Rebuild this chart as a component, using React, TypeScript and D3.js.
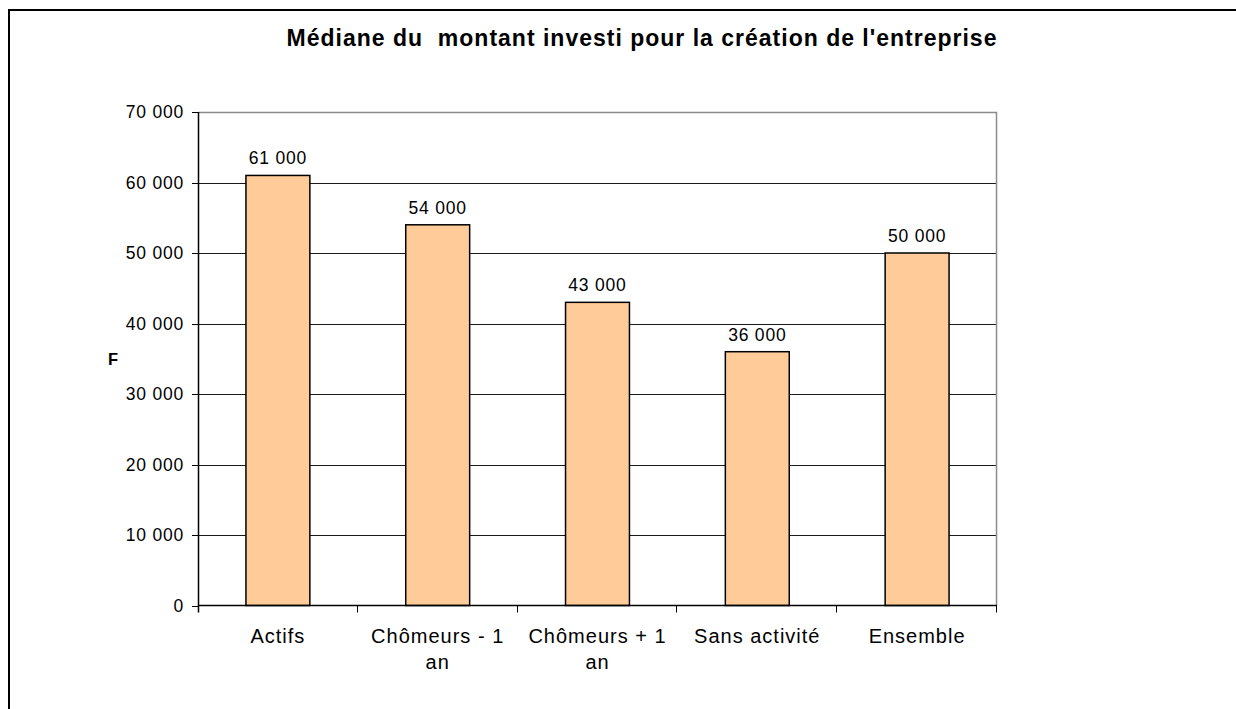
import React, { useEffect, useRef } from 'react';
import * as d3 from 'd3';

const categories = ['Actifs', 'Chômeurs - 1 an', 'Chômeurs + 1 an', 'Sans activité', 'Ensemble'];
const values = [61000, 54000, 43000, 36000, 50000];
const yTicks = [0, 10000, 20000, 30000, 40000, 50000, 60000, 70000];
const title = "Médiane du  montant investi pour la création de l'entreprise";
const yLabel = 'F';

const fmt = (v: number) => d3.format(',')(v).replace(/,/g, ' ');

const App = () => {
  const ref = useRef<SVGSVGElement | null>(null);

  useEffect(() => {
    const svg = d3.select(ref.current);
    svg.selectAll('*').remove();

    const width = 1236;
    const height = 709;
    const font = '"Liberation Sans", Arial, sans-serif';
    const plot = { left: 198, right: 997, top: 112, bottom: 605.5 };

    svg.append('rect').attr('width', width).attr('height', height).attr('fill', '#fff');

    // outer frame (cropped on right and bottom)
    svg
      .append('path')
      .attr('d', `M9,${height + 5}V10H${width + 5}`)
      .attr('fill', 'none')
      .attr('stroke', '#000')
      .attr('stroke-width', 2);

    svg
      .append('text')
      .attr('x', 642)
      .attr('y', 46)
      .attr('text-anchor', 'middle')
      .attr('font-family', font)
      .attr('font-weight', 'bold')
      .attr('font-size', 23)
      .attr('letter-spacing', 1)
      .style('white-space', 'pre')
      .text(title);

    const yScale = d3.scaleLinear().domain([0, 70000]).range([plot.bottom, plot.top]);
    const xOuter = d3.scaleBand().domain(categories).range([plot.left, plot.right]).padding(0);
    const xBar = d3
      .scaleBand()
      .domain(categories)
      .range([plot.left, plot.right])
      .paddingInner(0.6)
      .paddingOuter(0.3);

    // gridlines
    svg
      .append('g')
      .selectAll('line')
      .data(yTicks.filter((t) => t > 0 && t < 70000))
      .enter()
      .append('line')
      .attr('x1', plot.left)
      .attr('x2', plot.right)
      .attr('y1', (d) => Math.round(yScale(d)) + 0.5)
      .attr('y2', (d) => Math.round(yScale(d)) + 0.5)
      .attr('stroke', '#1a1a1a')
      .attr('stroke-width', 1);

    // plot border top / right (gray)
    svg
      .append('path')
      .attr('d', `M${plot.left},${plot.top + 0.5}H${plot.right - 0.5}V${plot.bottom}`)
      .attr('fill', 'none')
      .attr('stroke', '#8c8c8c')
      .attr('stroke-width', 1.5);

    // bars
    svg
      .append('g')
      .selectAll('rect')
      .data(values)
      .enter()
      .append('rect')
      .attr('x', (d, i) => xBar(categories[i]) as number)
      .attr('y', (d) => yScale(d))
      .attr('width', xBar.bandwidth())
      .attr('height', (d) => yScale(0) - yScale(d))
      .attr('fill', '#FFCC99')
      .attr('stroke', '#000')
      .attr('stroke-width', 1.5);

    // value labels
    svg
      .append('g')
      .selectAll('text')
      .data(values)
      .enter()
      .append('text')
      .attr('x', (d, i) => (xBar(categories[i]) as number) + xBar.bandwidth() / 2)
      .attr('y', (d) => yScale(d) - 11)
      .attr('text-anchor', 'middle')
      .attr('font-family', font)
      .attr('font-size', 17.5)
      .attr('letter-spacing', 0.8)
      .text((d) => fmt(d));

    // y axis
    const yAxis = svg.append('g');
    yAxis
      .append('line')
      .attr('x1', plot.left + 0.5)
      .attr('x2', plot.left + 0.5)
      .attr('y1', plot.top)
      .attr('y2', plot.bottom + 7)
      .attr('stroke', '#000')
      .attr('stroke-width', 1.5);
    yAxis
      .selectAll('line.tick')
      .data(yTicks)
      .enter()
      .append('line')
      .attr('class', 'tick')
      .attr('x1', plot.left - 6)
      .attr('x2', plot.left)
      .attr('y1', (d) => Math.round(yScale(d)) + 0.5)
      .attr('y2', (d) => Math.round(yScale(d)) + 0.5)
      .attr('stroke', '#000');
    yAxis
      .selectAll('text')
      .data(yTicks)
      .enter()
      .append('text')
      .attr('x', 184)
      .attr('y', (d) => yScale(d))
      .attr('dy', '0.36em')
      .attr('text-anchor', 'end')
      .attr('font-family', font)
      .attr('font-size', 17.5)
      .attr('letter-spacing', 0.8)
      .text((d) => fmt(d));

    svg
      .append('text')
      .attr('x', 113)
      .attr('y', 365)
      .attr('text-anchor', 'middle')
      .attr('font-family', font)
      .attr('font-weight', 'bold')
      .attr('font-size', 16.5)
      .text(yLabel);

    // x axis
    const xAxis = svg.append('g');
    xAxis
      .append('line')
      .attr('x1', plot.left)
      .attr('x2', plot.right)
      .attr('y1', plot.bottom)
      .attr('y2', plot.bottom)
      .attr('stroke', '#000')
      .attr('stroke-width', 1.5);
    const bounds = categories.map((c) => (xOuter(c) as number) + xOuter.bandwidth());
    xAxis
      .selectAll('line.tick')
      .data(bounds)
      .enter()
      .append('line')
      .attr('class', 'tick')
      .attr('x1', (d) => Math.round(d) - 0.5)
      .attr('x2', (d) => Math.round(d) - 0.5)
      .attr('y1', plot.bottom)
      .attr('y2', plot.bottom + 7)
      .attr('stroke', '#000');

    const labels = xAxis
      .selectAll('text')
      .data(categories)
      .enter()
      .append('text')
      .attr('x', (d) => (xOuter(d) as number) + xOuter.bandwidth() / 2)
      .attr('y', 643)
      .attr('text-anchor', 'middle')
      .attr('font-family', font)
      .attr('font-size', 20)
      .attr('letter-spacing', 1);

    const maxW = xOuter.bandwidth() - 8;
    labels.each(function (d) {
      const text = d3.select(this);
      const words = d.split(' ');
      const x = text.attr('x');
      let line: string[] = [];
      let tspan = text.append('tspan').attr('x', x).attr('dy', 0);
      words.forEach((w) => {
        line.push(w);
        tspan.text(line.join(' '));
        const node = tspan.node() as SVGTSpanElement;
        if (node.getComputedTextLength() > maxW && line.length > 1) {
          line.pop();
          tspan.text(line.join(' '));
          line = [w];
          tspan = text.append('tspan').attr('x', x).attr('dy', 26).text(w);
        }
      });
    });
  }, []);

  return (
    <svg
      ref={ref}
      width={1236}
      height={709}
      style={{ position: 'absolute', left: 0, top: 0, display: 'block' }}
    />
  );
};

export default App;
